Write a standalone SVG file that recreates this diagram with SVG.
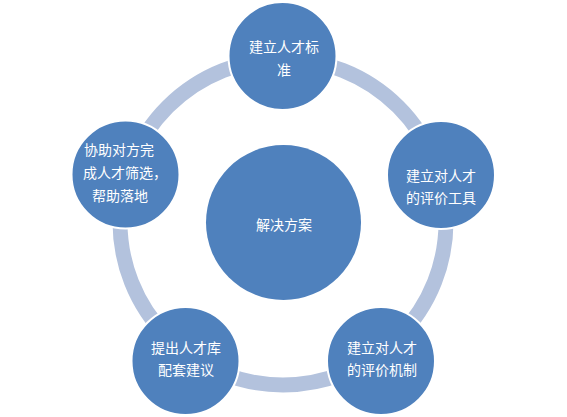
<svg xmlns="http://www.w3.org/2000/svg" width="567" height="417" viewBox="0 0 567 417">
<style>
.node{fill:#4f81bd;stroke:#ffffff;stroke-width:2}
.ring{fill:none;stroke:#b3c2dd;stroke-width:15}
.t{font-family:"Noto Sans CJK SC","Noto Sans",sans-serif;font-size:14px;fill:#ffffff;text-anchor:middle}
</style>
<rect width="567" height="417" fill="#ffffff"/>
<g id="connectors">
<circle class="ring" cx="283" cy="222" r="163"/>
</g>
<g id="center">
<circle class="node" cx="283.5" cy="222.5" r="77.5" style="stroke:none"/>
<text class="t" x="284" y="230">解决方案</text>
</g>
<g id="n1">
<circle class="node" cx="282.5" cy="56" r="54"/>
<text class="t" x="284" y="52">建立人才标</text>
<text class="t" x="284" y="75">准</text>
</g>
<g id="n2">
<circle class="node" cx="441" cy="175" r="54"/>
<text class="t" x="441" y="181">建立对人才</text>
<text class="t" x="441" y="203">的评价工具</text>
</g>
<g id="n3">
<circle class="node" cx="381" cy="361" r="54"/>
<text class="t" x="382" y="353">建立对人才</text>
<text class="t" x="382" y="375">的评价机制</text>
</g>
<g id="n4">
<circle class="node" cx="185.5" cy="361" r="54"/>
<text class="t" x="186" y="353">提出人才库</text>
<text class="t" x="186" y="375">配套建议</text>
</g>
<g id="n5">
<circle class="node" cx="125.5" cy="174.5" r="54"/>
<text class="t" x="119" y="155">协助对方完</text>
<text class="t" x="125" y="178">成人才筛选，</text>
<text class="t" x="120" y="201">帮助落地</text>
</g>
</svg>
